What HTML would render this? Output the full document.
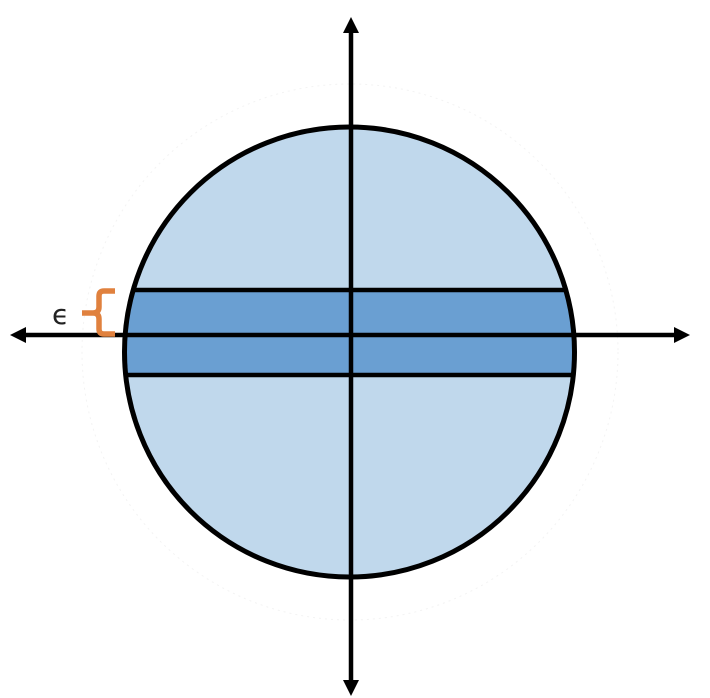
<!DOCTYPE html>
<html><head><meta charset="utf-8"><style>html,body{margin:0;padding:0;background:#fff;}svg{display:block}</style></head>
<body>
<svg width="710" height="698" viewBox="0 0 710 698" xmlns="http://www.w3.org/2000/svg">
<defs><clipPath id="c"><circle cx="349.5" cy="352" r="225"/></clipPath></defs>
<circle cx="350" cy="352" r="268" fill="none" stroke="#f3f3f3" stroke-width="1" stroke-dasharray="2 4"/>
<circle cx="349.5" cy="352" r="225" fill="#c0d8ec"/>
<rect x="100" y="290" width="500" height="85" fill="#6a9fd2" clip-path="url(#c)"/>
<g clip-path="url(#c)" stroke="#000" stroke-width="4.5">
<line x1="100" y1="290" x2="600" y2="290"/>
<line x1="100" y1="375" x2="600" y2="375"/>
</g>
<circle cx="349.5" cy="352" r="225" fill="none" stroke="#000" stroke-width="5"/>
<line x1="24" y1="335" x2="678" y2="335" stroke="#000" stroke-width="4.5"/>
<polygon points="10,335 26,327 26,343" fill="#000"/>
<polygon points="690,335 674,327 674,343" fill="#000"/>
<line x1="351" y1="30" x2="351" y2="684" stroke="#000" stroke-width="4.5"/>
<polygon points="351,17 343,33 359,33" fill="#000"/>
<polygon points="351,696 343,680 359,680" fill="#000"/>
<path d="M115,291 L104,291 Q99,291 99,296 L99,307 Q99,313 93,313 L82,313 M93,313 Q99,313 99,319 L99,329 Q99,334 104,334 L115,334" fill="none" stroke="#e0813e" stroke-width="5.5"/>
<text x="52" y="324" font-family="'DejaVu Sans', sans-serif" font-size="28" fill="#222">ϵ</text>
</svg>
</body></html>
